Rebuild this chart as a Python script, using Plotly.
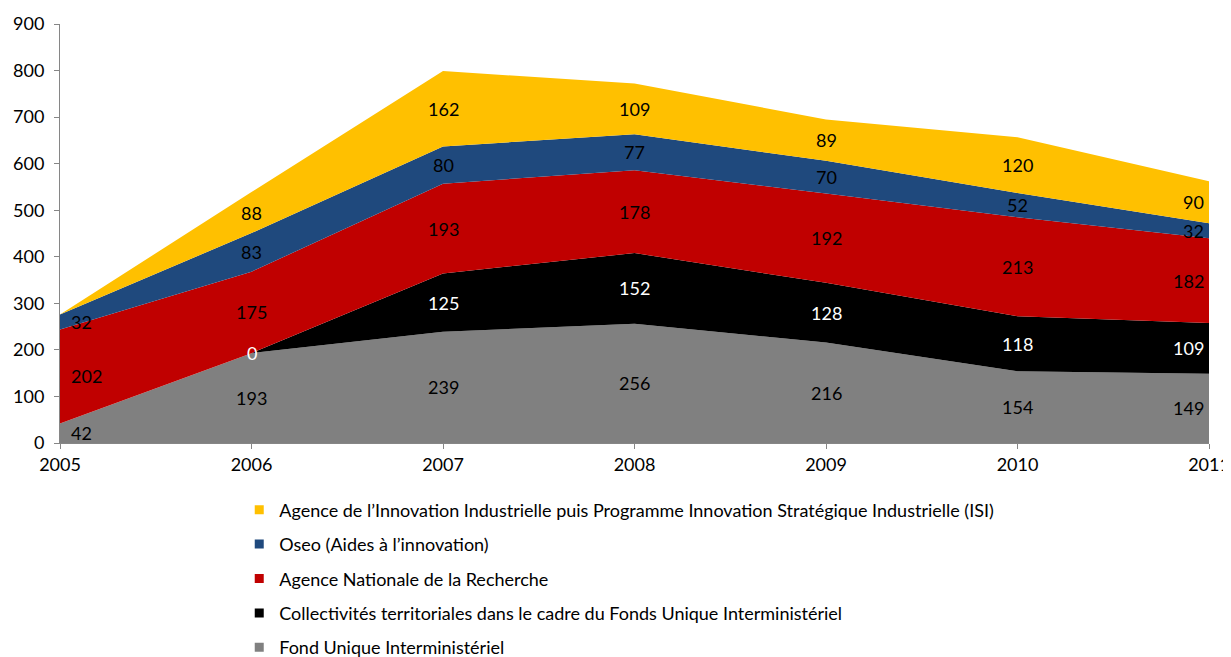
import plotly.graph_objects as go

years = [2005, 2006, 2007, 2008, 2009, 2010, 2011]
series_names = [
    "Fond Unique Interministériel",
    "Collectivités territoriales dans le cadre du Fonds Unique Interministériel",
    "Agence Nationale de la Recherche",
    "Oseo (Aides à l’innovation)",
    "Agence de l’Innovation Industrielle puis Programme Innovation Stratégique Industrielle (ISI)",
]
fui = [42, 193, 239, 256, 216, 154, 149]
collectivites = [None, 0, 125, 152, 128, 118, 109]
anr = [202, 175, 193, 178, 192, 213, 182]
oseo = [32, 83, 80, 77, 70, 52, 32]
isi = [None, 88, 162, 109, 89, 120, 90]

values = [fui, collectivites, anr, oseo, isi]
colors = ["#808080", "#000000", "#C00000", "#1F497D", "#FFC000"]
label_colors = ["#000000", "#FFFFFF", "#000000", "#000000", "#000000"]
FONT = "Lato, Open Sans, sans-serif"

fig = go.Figure()
for name, vals, col in zip(series_names, values, colors):
    fig.add_trace(go.Scatter(
        x=years, y=[v if v is not None else 0 for v in vals],
        stackgroup="one", mode="none", fillcolor=col, line=dict(width=0),
        name=name, showlegend=False, hoverinfo="skip",
    ))

# legend entries with square markers, top to bottom order
for name, col in reversed(list(zip(series_names, colors))):
    fig.add_trace(go.Scatter(
        x=[None], y=[None], mode="markers", name=name, legendgroup=name,
        marker=dict(symbol="square", size=9, color=col), showlegend=True,
    ))

# data labels at the middle of each band
cum = [0] * len(years)
for vals, lc in zip(values, label_colors):
    for i, (yr, v) in enumerate(zip(years, vals)):
        if v is None:
            continue
        mid = cum[i] + v / 2
        if i == 0:
            xa, xs = "left", 9
        elif i == len(years) - 1:
            xa, xs = "right", -3
        else:
            xa, xs = "center", 0
        fig.add_annotation(x=yr, y=mid, text=str(v), showarrow=False,
                           xanchor=xa, xshift=xs,
                           font=dict(family=FONT, size=18, color=lc))
        cum[i] += v

fig.update_layout(
    width=1223, height=665,
    margin=dict(l=52, r=22, t=16, b=230, autoexpand=False),
    plot_bgcolor="white", paper_bgcolor="white",
    font=dict(family=FONT, size=18, color="#000000"),
    xaxis=dict(range=[2005, 2011], tickvals=years, ticktext=[str(y) for y in years],
               showgrid=False, zeroline=False, showline=True, linecolor="#868686",
               linewidth=1, ticks="outside", ticklen=5, tickcolor="#868686",
               tickfont=dict(size=18), ticklabeloverflow="allow"),
    yaxis=dict(range=[0, 900], dtick=100, showgrid=False, zeroline=False,
               showline=True, linecolor="#868686", linewidth=1,
               ticks="outside", ticklen=5, tickcolor="#868686",
               tickfont=dict(size=18), ticklabelstandoff=6,
               ticklabeloverflow="allow"),
    legend=dict(orientation="v", x=0.156, y=-0.1158, xanchor="left", yanchor="top",
                font=dict(family=FONT, size=18), tracegroupgap=8,
                itemwidth=30, bgcolor="rgba(0,0,0,0)"),
)

fig.write_html("out.html")
